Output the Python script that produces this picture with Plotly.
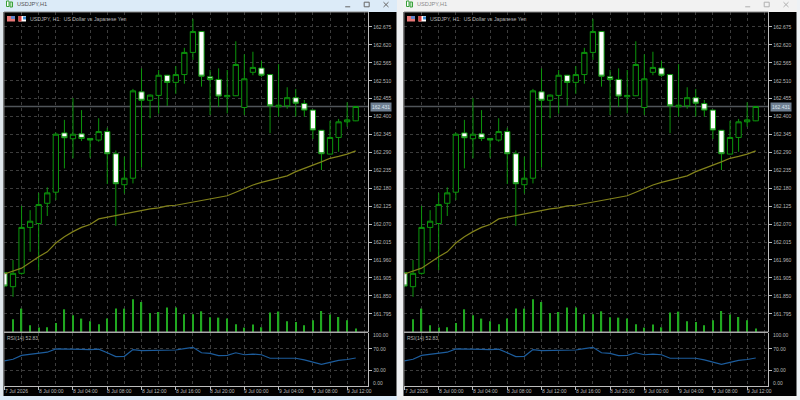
import plotly.graph_objects as go

W, H = 800, 400
times = ["2026-07-07 20:00", "2026-07-07 21:00", "2026-07-07 22:00", "2026-07-07 23:00"]
times += [f"2026-07-08 {h:02d}:00" for h in range(24)]
times += [f"2026-07-09 {h:02d}:00" for h in range(14)]

opens = [161.921,161.878,161.919,162.060,162.072,162.134,162.168,162.350,162.332,162.347,162.333,162.328,162.354,162.286,
         162.191,162.211,162.476,162.450,162.465,162.527,162.505,162.529,162.597,162.661,162.522,162.514,162.461,162.464,
         162.428,162.536,162.549,162.529,162.430,162.433,162.458,162.440,162.420,162.358,162.285,162.336,162.384,162.387]
highs = [161.923,161.960,162.126,162.113,162.166,162.183,162.351,162.390,162.457,162.420,162.334,162.395,162.366,162.296,
         162.277,162.485,162.548,162.468,162.543,162.528,162.555,162.611,162.700,162.662,162.543,162.548,162.543,162.631,
         162.591,162.599,162.571,162.530,162.561,162.490,162.485,162.451,162.421,162.359,162.387,162.393,162.444,162.431]
lows = [161.877,161.847,161.915,161.985,161.929,162.095,162.144,162.241,162.272,162.325,162.274,162.323,162.193,162.065,
        162.164,162.195,162.243,162.395,162.409,162.433,162.470,162.501,162.574,162.492,162.405,162.430,162.410,162.463,
        162.405,162.527,162.521,162.349,162.400,162.424,162.400,162.400,162.331,162.236,162.284,162.292,162.369,162.386]
closes = [161.880,161.919,162.060,162.079,162.130,162.166,162.346,162.335,162.346,162.333,162.328,162.354,162.286,162.194,
          162.211,162.479,162.450,162.466,162.527,162.505,162.529,162.597,162.661,162.524,162.514,162.463,162.465,162.560,
          162.516,162.551,162.527,162.433,162.435,162.458,162.441,162.420,162.359,162.286,162.336,162.384,162.390,162.431]
ma_values = [161.917,161.926,161.935,161.952,161.970,161.985,162.012,162.031,162.047,162.060,162.069,162.086,162.091,162.097,
             162.101,162.106,162.113,162.117,162.120,162.126,162.128,162.133,162.139,162.142,162.147,162.152,162.157,162.168,
             162.180,162.190,162.198,162.205,162.212,162.218,162.231,162.242,162.251,162.261,162.272,162.278,162.285,162.295]
volumes = [0,1270,2340,670,440,470,900,2270,1670,1340,1070,770,1340,2340,2340,3270,3000,1900,2000,2440,2440,1770,1770,2070,
           1470,1440,1340,770,440,740,470,1940,2040,1070,1000,670,1170,2100,1740,1500,1170,340]
rsi_values = [47.5,50.5,57.8,59.6,61.5,63.8,70.0,69.3,69.5,69.2,68.7,69.5,62.7,55.4,56.0,68.7,66.9,67.2,68.7,67.8,67.9,70.5,72.9,
              62.7,61.5,57.3,57.8,62.7,59.0,60.2,59.0,52.4,52.4,53.6,52.4,49.3,45.6,40.9,44.5,48.2,50.0,52.83]

price_ticks = [162.675,162.620,162.565,162.510,162.455,162.400,162.345,162.290,162.235,162.180,162.125,162.070,162.015,161.960,161.905,161.850,161.795]
rsi_ticks = [70, 30]
time_labels = [("2026-07-07 20:00","7 Jul 2026"),("2026-07-08 00:00","8 Jul 00:00"),("2026-07-08 04:00","8 Jul 04:00"),
               ("2026-07-08 08:00","8 Jul 08:00"),("2026-07-08 12:00","8 Jul 12:00"),("2026-07-08 16:00","8 Jul 16:00"),
               ("2026-07-08 20:00","8 Jul 20:00"),("2026-07-09 00:00","9 Jul 00:00"),("2026-07-09 04:00","9 Jul 04:00"),
               ("2026-07-09 08:00","9 Jul 08:00"),("2026-07-09 12:00","9 Jul 12:00")]
current_price = 162.431
FONT = "Liberation Sans"
GREEN = "#0c960c"; VOL = "#20a820"; MA = "#82821a"; RSI = "#1c5c9c"; GRID = "#3c3c3c"; TXT = "#b8b8b8"

def px(x): return x / W
def py(y): return 1 - y / H

fig = go.Figure()
shapes, annos = [], []

def rect(x0, y0, x1, y1, fill, line=None, layer="below"):
    shapes.append(dict(type="rect", xref="paper", yref="paper", x0=px(x0), x1=px(x1), y0=py(y1), y1=py(y0),
                       fillcolor=fill, line=dict(width=1 if line else 0, color=line or fill), layer=layer))
def seg(x0, y0, x1, y1, color, width=1, layer="above"):
    shapes.append(dict(type="line", xref="paper", yref="paper", x0=px(x0), x1=px(x1), y0=py(y0), y1=py(y1),
                       line=dict(color=color, width=width), layer=layer))
def text(x, y, s, size, color, anchor="left"):
    annos.append(dict(text=s, xref="paper", yref="paper", x=px(x), y=py(y), xanchor=anchor, yanchor="middle",
                      showarrow=False, font=dict(family=FONT, size=size, color=color), borderpad=0))

def panel(dx, n, title_bg, title_fg, btn):
    xa, xb = f"x{n*2+1 if n else ''}", f"x{n*2+2}"
    ya, yv, yr = f"y{n*3+1 if n else ''}", f"y{n*3+2}", f"y{n*3+3}"
    rect(dx, 0, dx + 397, 12, title_bg)
    rect(dx, 12, dx + 3.5, 400, "#dfe6ec" if n == 0 else "#e9e9e9")
    rect(dx + 3.5, 12, dx + 396.5, 396, "#000000")
    rect(dx, 396, dx + 397, 400, title_bg)
    fig.add_trace(go.Bar(x=times, y=volumes, width=560000, marker=dict(color=VOL, line=dict(width=0)),
                         xaxis=xa, yaxis=yv, showlegend=False))
    fig.add_trace(go.Candlestick(x=times, open=opens, high=highs, low=lows, close=closes, xaxis=xa, yaxis=ya, showlegend=False,
                                 whiskerwidth=0,
                                 increasing=dict(line=dict(color=GREEN, width=1), fillcolor="#000000"),
                                 decreasing=dict(line=dict(color=GREEN, width=1), fillcolor="#ffffff")))
    fig.add_trace(go.Scatter(x=times, y=ma_values, mode="lines", line=dict(color=MA, width=1.2), xaxis=xa, yaxis=ya, showlegend=False))
    fig.add_trace(go.Scatter(x=times, y=rsi_values, mode="lines", line=dict(color=RSI, width=1.2), xaxis=xb, yaxis=yr, showlegend=False))
    dom_x = [px(dx + 4), px(dx + 368.3)]
    xrange_ = ["2026-07-07 19:57", "2026-07-09 14:28"]
    xcommon = dict(domain=dom_x, range=xrange_, type="date", tick0="2026-07-08 00:00", dtick=4*3600000, showgrid=True,
                   griddash="dot", gridcolor=GRID, gridwidth=1, showticklabels=False, zeroline=False,
                   minor=dict(dtick=2*3600000, tick0="2026-07-08 00:00", showgrid=True, griddash="dot", gridcolor=GRID, gridwidth=1, ticks=""))
    lay = {}
    nm = lambda a, pre: pre + "axis" + a[1:]
    lay[nm(xa, "x")] = dict(xcommon, anchor=ya, rangeslider=dict(visible=False), ticks="", showline=False)
    lay[nm(xb, "x")] = dict(xcommon, anchor=yr, ticks="outside", ticklen=3, tickcolor="#bdbdbd", tickwidth=1,
                            showline=True, linecolor="#bdbdbd", linewidth=1)
    lay[nm(ya, "y")] = dict(domain=[py(332), py(12)], range=[161.739, 162.721], anchor=xa, side="right", tickmode="array",
                            tickvals=price_ticks, tickformat=".3f", ticks="outside", ticklen=3, tickcolor="#bdbdbd",
                            griddash="dot", gridcolor=GRID, gridwidth=1, showgrid=True, zeroline=False,
                            showline=True, linecolor="#bdbdbd", linewidth=1,
                            tickfont=dict(family=FONT, size=5, color=TXT), fixedrange=True)
    lay[nm(yv, "y")] = dict(overlaying=ya, anchor=xa, range=[0, 32000], visible=False, side="right")
    lay[nm(yr, "y")] = dict(domain=[py(386), py(333)], range=[0, 100], anchor=xb, side="right", tickmode="array",
                            tickvals=rsi_ticks, ticktext=["70.00", "30.00"], ticks="outside", ticklen=3, tickcolor="#bdbdbd",
                            griddash="dot", gridcolor=GRID, gridwidth=1, showgrid=True, zeroline=False,
                            showline=True, linecolor="#bdbdbd", linewidth=1,
                            tickfont=dict(family=FONT, size=5, color=TXT))
    fig.update_layout(**lay)
    # frame lines
    seg(dx + 4, 12, dx + 368.3, 12, "#8a8a8a")
    seg(dx + 4, 12, dx + 4, 386, "#7a7a7a")
    seg(dx + 4, 332.3, dx + 368.3, 332.3, "#a8a8a8", 1.6)
    # current price line
    shapes.append(dict(type="line", xref="paper", yref=ya,
                       x0=px(dx + 4), x1=px(dx + 368.3), y0=current_price, y1=current_price,
                       line=dict(color="#50555a", width=1.3), layer="below"))
    annos.append(dict(text=f"{current_price:.3f}", xref="paper", yref=ya, x=px(dx + 370), y=current_price, xanchor="left",
                      yanchor="middle", showarrow=False, bgcolor="#6e7f92", borderpad=1,
                      font=dict(family=FONT, size=5, color="#dfe6ee")))
    # window title
    text(dx + 16, 3.5, "USDJPY,H1", 5.6, title_fg)
    rect(dx + 6.5, 1, dx + 9, 6.5, "#ffffff", "#3aa03a", "above")
    rect(dx + 10, 2, dx + 12.5, 7, "#bfe6bf", "#3aa03a", "above")
    seg(dx + btn[0] - 2.5, 6.8, dx + btn[0] + 2.5, 6.8, btn[3], 1)
    rect(dx + btn[1] - 2.5, 2.2, dx + btn[1] + 2.5, 6.8, "rgba(0,0,0,0)", btn[3], "above")
    seg(dx + btn[2] - 2.5, 2.2, dx + btn[2] + 2.5, 7, btn[3], 1)
    seg(dx + btn[2] - 2.5, 7, dx + btn[2] + 2.5, 2.2, btn[3], 1)
    # legend line and flags
    rect(dx + 7, 16, dx + 15, 21.5, "#e87878", None, "above")
    rect(dx + 11, 16, dx + 15, 19, "#5f83c8", None, "above")
    rect(dx + 18.5, 16, dx + 26, 21.5, "#ffffff", None, "above")
    rect(dx + 18.5, 16, dx + 21.5, 21.5, "#d83c3c", None, "above")
    rect(dx + 23, 16.5, dx + 26, 19.5, "#3a8bd0", None, "above")
    text(dx + 29, 18.8, "USDJPY, H1:  US Dollar vs Japanese Yen", 5.2, "#b4b4b4")
    text(dx + 6, 337.5, "RSI(14) 52.83", 5, "#b4b4b4")
    text(dx + 372, 335, "100.00", 5, TXT)
    text(dx + 372, 383.3, "0.00", 5, TXT)
    # time labels
    for t, s in time_labels:
        annos.append(dict(text=s, xref=xb, yref="paper", x=t, y=py(390.8), xanchor="left", yanchor="middle", showarrow=False,
                          font=dict(family=FONT, size=5, color=TXT), borderpad=0, xshift=-1 if s != "7 Jul 2026" else 0))

panel(0, 0, "#dcebf8", "#555555", (347.7, 366.7, 386, "#666666"))
panel(400, 1, "#f2f2f2", "#8a8a8a", (347.7, 366.7, 386, "#b0b0b0"))
rect(397, 0, 403, 400, "#eef0f2")

fig.update_layout(width=W, height=H, margin=dict(l=0, r=0, t=0, b=0, pad=0), autosize=False,
                  paper_bgcolor="#eef2f5", plot_bgcolor="rgba(0,0,0,0)", showlegend=False, barmode="overlay",
                  boxgap=0.3, boxgroupgap=0.12, font=dict(family=FONT, size=5, color=TXT), shapes=shapes, annotations=annos)
fig.write_html("out.html", config=dict(displayModeBar=False), post_script="document.body.style.margin='0';document.body.style.overflow='hidden';")
